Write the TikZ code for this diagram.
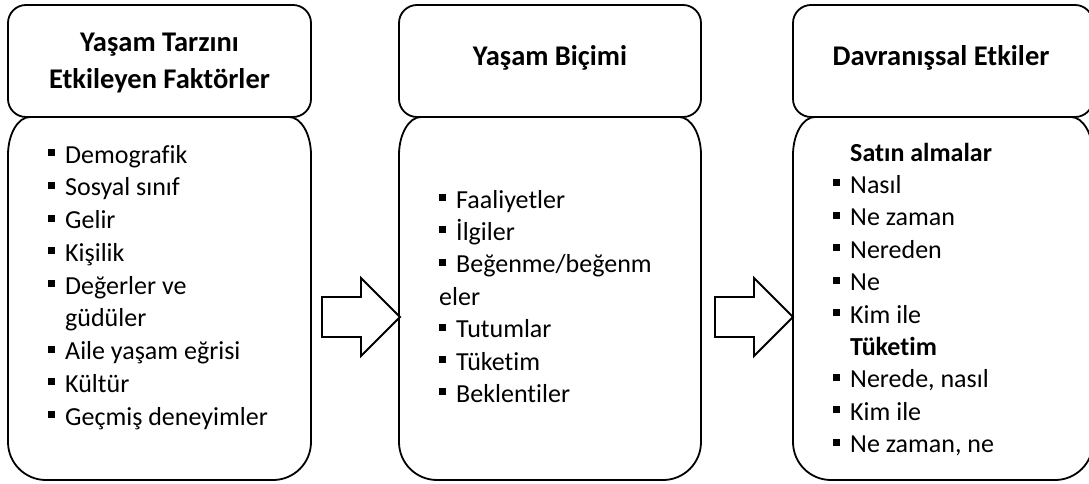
\documentclass[tikz,border=0pt]{standalone}
\usepackage{fontspec}
\setmainfont{Carlito}[Ligatures={NoCommon}]
% bullet square plus its text; args: name, bullet x, text x, baseline y, text
\newcommand{\listitem}[5]{%
  \fill (#2,#4-14) rectangle ++(7,7);
  \node[entry] (#1) at (#3,#4) {#5};}
% column body: rounded box hanging under a header; args: left x, right x
\newcommand{\columnbody}[2]{%
  \draw[outline]
    (#1+22,117) -- (#2-22,117)
    .. controls (#2-10,117) and (#2,134) .. (#2,155)
    -- (#2,442)
    .. controls (#2,463) and (#2-17,480) .. (#2-38,480)
    -- (#1+38,480)
    .. controls (#1+17,480) and (#1,463) .. (#1,442)
    -- (#1,155)
    .. controls (#1,134) and (#1+10,117) .. cycle;}
\begin{document}
\begin{tikzpicture}[x=1pt,y=-1pt,
  outline/.style={draw=black,line width=1.8pt,line join=round},
  headbox/.style={outline,rounded corners=18pt},
  blockarrow/.style={draw=black,line width=1.8pt,line join=miter,fill=white},
  title/.style={font=\fontsize{28.5}{37}\selectfont\bfseries,align=center,inner sep=0pt},
  entry/.style={font=\fontsize{26}{30}\selectfont,anchor=base west,inner sep=0pt},
  heading/.style={entry,font=\fontsize{26}{30}\selectfont\bfseries}]
\useasboundingbox (0,0) rectangle (1089,484);

% bodies
\columnbody{8}{311}
\columnbody{399}{701}
\columnbody{793}{1093}

% headers
\draw[headbox] (8,5) rectangle (311,117);
\draw[headbox] (399,5) rectangle (701,117);
\draw[headbox] (793,5) rectangle (1093,117);

\node[title] (h1) at (159.5,63.5) {Yaşam Tarzını\\Etkileyen Faktörler};
\node[title,anchor=base] (h2) at (550,66) {Yaşam Biçimi};
\node[title,anchor=base] (h3) at (941,66) {Davranışsal Etkiler};

% block arrows between the columns
\draw[blockarrow] (322,297) -- (361,297) -- (361,278) -- (400,317)
  -- (361,356) -- (361,337) -- (322,337) -- cycle;
\draw[blockarrow] (715,297) -- (754,297) -- (754,278) -- (793,317)
  -- (754,356) -- (754,337) -- (715,337) -- cycle;

% left list
\listitem{a1}{48}{65}{163}{Demografik}
\listitem{a2}{48}{65}{195.75}{Sosyal sınıf}
\listitem{a3}{48}{65}{228.5}{Gelir}
\listitem{a4}{48}{65}{261.25}{Kişilik}
\listitem{a5}{48}{65}{294}{Değerler ve}
\node[entry] (a5b) at (65,326.75) {güdüler};
\listitem{a6}{48}{65}{359.5}{Aile yaşam eğrisi}
\listitem{a7}{48}{65}{392.25}{Kültür}
\listitem{a8}{48}{65}{425}{Geçmiş deneyimler}

% middle list
\listitem{b1}{439}{456}{208}{Faaliyetler}
\listitem{b2}{439}{456}{240.4}{İlgiler}
\listitem{b3}{439}{456}{272.8}{Beğenme/beğenm}
\node[entry] (b3b) at (439,305.2) {eler};
\listitem{b4}{439}{456}{337.6}{Tutumlar}
\listitem{b5}{439}{456}{370}{Tüketim}
\listitem{b6}{439}{456}{402.4}{Beklentiler}

% right list
\node[heading] (c0) at (850,161) {Satın almalar};
\listitem{c1}{833}{850}{193.4}{Nasıl}
\listitem{c2}{833}{850}{225.8}{Ne zaman}
\listitem{c3}{833}{850}{258.2}{Nereden}
\listitem{c4}{833}{850}{290.6}{Ne}
\listitem{c5}{833}{850}{323}{Kim ile}
\node[heading] (c6) at (850,355.4) {Tüketim};
\listitem{c7}{833}{850}{387.8}{Nerede, nasıl}
\listitem{c8}{833}{850}{420.2}{Kim ile}
\listitem{c9}{833}{850}{452.6}{Ne zaman, ne}
\end{tikzpicture}
\end{document}
